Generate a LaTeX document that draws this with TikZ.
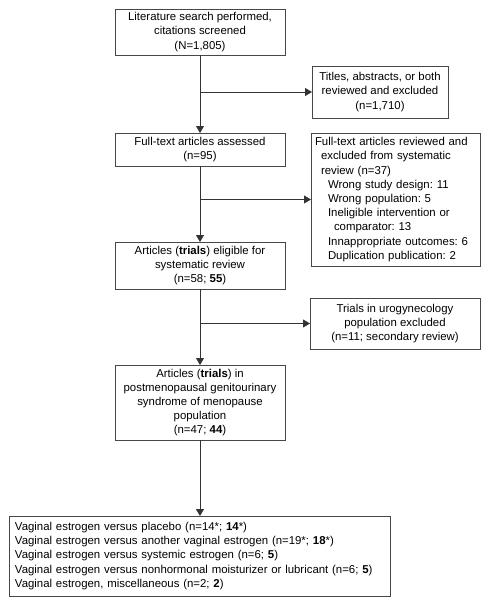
\documentclass[tikz,border=0pt]{standalone}
\usepackage{fontspec}
\setmainfont{Liberation Sans}
\usetikzlibrary{arrows.meta,calc}
\frenchspacing

\begin{document}
\begin{tikzpicture}
    [x=1pt, y=-1pt,
    %Option for nice arrows
    >={Triangle[length=7pt,width=8pt]}, %
    inner sep=0pt, outer sep=0pt,%
    every node/.style={font=\fontsize{11.4}{14.2}\selectfont},
    box/.style={draw=boxgray, line width=0.8pt, align=center, minimum width=#1},
    listbox/.style={draw=boxgray, line width=0.8pt, align=left, inner xsep=#1},
    link/.style={draw=linegray, line width=0.8pt, ->}];

    % Colors

    \colorlet{boxgray}{black!72};
    \colorlet{linegray}{black!80};

    % Frame
    \useasboundingbox (0,0) rectangle (490,606);

    % Main column
    \node[box=170pt, minimum height=46pt] (search) at (200,32)
        {Literature search performed,\\citations screened\\(N=1,805)};
    \node[box=170pt, minimum height=33pt] (full) at (200,149.5)
        {Full-text articles assessed\\(n=95)};
    \node[box=170pt, minimum height=47pt] (elig) at (200,265.5)
        {Articles (\textbf{trials}) eligible for\\systematic review\\(n=58; \textbf{55})};
    \node[box=170pt, minimum height=75pt] (gsm) at (200,402.5)
        {Articles (\textbf{trials}) in\\postmenopausal genitourinary\\syndrome of menopause\\population\\(n=47; \textbf{44})};
    \node[listbox=6pt, text width=369pt, minimum height=80pt] (compare) at (199.5,556)
        {Vaginal estrogen versus placebo (n=14*; \textbf{14}*)\\
         Vaginal estrogen versus another vaginal estrogen (n=19*; \textbf{18}*)\\
         Vaginal estrogen versus systemic estrogen (n=6; \textbf{5})\\
         Vaginal estrogen versus nonhormonal moisturizer or lubricant (n=6; \textbf{5})\\
         Vaginal estrogen, miscellaneous (n=2; \textbf{2})};

    % Exclusions
    \node[box=136pt, minimum height=52pt] (titles) at (380,92)
        {Titles, abstracts, or both\\reviewed and excluded\\(n=1,710)};
    \node[listbox=4pt, text width=161pt, minimum height=133pt] (excl) at (395.5,199.5)
        {Full-text articles reviewed and\\
         \hspace*{6pt}excluded from systematic\\
         \hspace*{6pt}review (n=37)\\
         \hspace*{13pt}Wrong study design: 11\\
         \hspace*{13pt}Wrong population: 5\\
         \hspace*{13pt}Ineligible intervention or\\
         \hspace*{19pt}comparator: 13\\
         \hspace*{13pt}Innappropriate outcomes: 6\\
         \hspace*{13pt}Duplication publication: 2};
    \node[box=170pt, minimum height=51pt] (urogyn) at (395,323.5)
        {Trials in urogynecology\\population excluded\\(n=11; secondary review)};

    % Connectors
    \coordinate (split1) at (search.south |- titles);
    \coordinate (split2) at (full.south |- excl);
    \coordinate (split3) at (elig.south |- urogyn);

    \draw[link] (search) -- (full);
    \draw[link] (full) -- (elig);
    \draw[link] (elig) -- (gsm);
    \draw[link] (gsm.south) -- (gsm.south |- compare.north);

    \draw[link] (split1) -- (titles);
    \draw[link] (split2) -- (excl);
    \draw[link] (split3) -- (urogyn);

\end{tikzpicture}
\end{document}
